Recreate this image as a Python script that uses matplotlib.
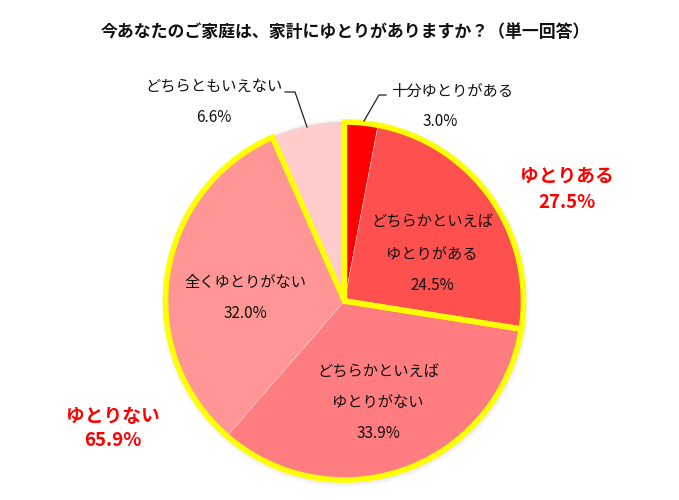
import matplotlib
matplotlib.use("Agg")
import matplotlib.pyplot as plt
from matplotlib.patches import Wedge, Circle
import numpy as np

plt.rcParams['font.family'] = ['Noto Sans CJK JP', 'DejaVu Sans']

title = "今あなたのご家庭は、家計にゆとりがありますか？（単一回答）"
categories = ["十分ゆとりがある", "どちらかといえば\nゆとりがある", "どちらかといえば\nゆとりがない",
              "全くゆとりがない", "どちらともいえない"]
values = [3.0, 24.5, 33.9, 32.0, 6.6]
colors = ["#FF0000", "#FF5050", "#FF7C80", "#FF9595", "#FFCCCC"]
group_names = ["ゆとりある", "ゆとりない"]
group_members = [[0, 1], [2, 3]]
group_totals = [27.5, 65.9]

W, H = 679, 500
fig = plt.figure(figsize=(W / 100, H / 100), dpi=100)
ax = fig.add_axes([0, 0, 1, 1])
ax.set_xlim(0, W)
ax.set_ylim(0, H)
ax.set_aspect('equal')
ax.axis('off')

def Y(y):
    return H - y

cx, cy, R = 344.5, Y(301), 179

# soft shadow
for i, a in enumerate([0.05, 0.05, 0.05]):
    ax.add_patch(Circle((cx + 1, cy - 2), R + 2 + i * 1.5, color='#888888', alpha=a, lw=0, zorder=0))

ax.pie(values, colors=colors, startangle=90, counterclock=False, center=(cx, cy), radius=R,
       wedgeprops=dict(linewidth=0.3, edgecolor='#dddddd'), frame=True)
ax.set_xlim(0, W)
ax.set_ylim(0, H)
ax.axis('off')

total = sum(values)
cum = np.concatenate([[0], np.cumsum(values)])
angles = 90 - 360 * cum / total  # boundaries (degrees)

for members in group_members:
    a_start = angles[members[0]]
    a_end = angles[members[-1] + 1]
    ax.add_patch(Wedge((cx, cy), R, a_end, a_start, fill=False, ec='#FFFF00', lw=4,
                       joinstyle='miter', zorder=5))

fs = 11
# inside labels
def lines(x, ys, texts):
    for y, t in zip(ys, texts):
        ax.text(x, Y(y), t, ha='center', va='center', fontsize=fs, color='#111111', zorder=6)

lines(432, [222, 254, 286], categories[1].split("\n") + [f"{values[1]:.1f}%"])
lines(378, [372, 403, 434], categories[2].split("\n") + [f"{values[2]:.1f}%"])
lines(245, [282, 313], [categories[3], f"{values[3]:.1f}%"])

# outside labels
ax.text(452, Y(91), categories[0], ha='center', va='center', fontsize=fs, color='#111111')
ax.text(440, Y(122), f"{values[0]:.1f}%", ha='center', va='center', fontsize=fs, color='#111111')
lines(214, [87, 117], [categories[4], f"{values[4]:.1f}%"])

# leader lines
ax.plot([364, 379, 386], [Y(121), Y(95), Y(95)], color='#222222', lw=0.9, zorder=6)
ax.plot([285, 295, 307], [Y(92), Y(92), Y(127)], color='#222222', lw=0.9, zorder=6)

# group labels
for name, tot, (x, y1, y2) in zip(group_names, group_totals, [(567, 176, 202), (113, 417, 441)]):
    ax.text(x, Y(y1), name, ha='center', va='center', fontsize=13.5, fontweight='bold', color='#FF0000')
    ax.text(x, Y(y2), f"{tot:.1f}%", ha='center', va='center', fontsize=13.5, fontweight='bold', color='#FF0000')

ax.text(345, Y(32), title, ha='center', va='center', fontsize=12.2, fontweight='bold', color='#111111')

fig.savefig("out.png", dpi=100)
